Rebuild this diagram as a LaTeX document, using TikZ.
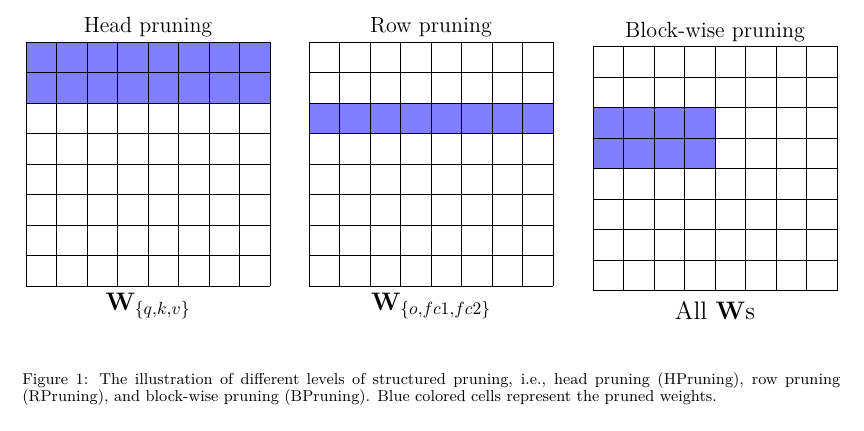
\documentclass[tikz,border=0pt]{standalone}
\usepackage{amsmath,amssymb}

\begin{document}
\begin{tikzpicture}[
    x=0.02cm, y=0.02cm,
    cell/.style={draw=black, line width=0.5pt},
    pruned/.style={fill=blue!50},
    title/.style={anchor=base, font=\fontsize{12.5}{15}\selectfont},
    mat/.style={anchor=base, font=\Large},
    caption/.style={anchor=base west, inner sep=0pt, font=\fontsize{9}{11}\selectfont}
]
\useasboundingbox (0,0) rectangle (864,430);

% pruned weights
\fill[pruned] (26,327) rectangle (270,388);
\fill[pruned] (309,296.5) rectangle (553,327);
\fill[pruned] (593,261.5) rectangle (715,322.5);

% the three 8x8 weight grids
\foreach \gx/\gy in {26/144, 309/144, 593/139.5} {
    \foreach \k in {0,...,8} {
        \draw[cell] (\gx+\k*30.5,\gy) -- (\gx+\k*30.5,\gy+244);
        \draw[cell] (\gx,\gy+\k*30.5) -- (\gx+244,\gy+\k*30.5);
    }
}

\node[title] (headT) at (148,397) {Head pruning};
\node[title] (rowT) at (431,397) {Row pruning};
\node[title] (blockT) at (715,392.7) {Block-wise pruning};

\node[mat] (headW) at (148,120) {$\mathbf{W}_{\{q,k,v\}}$};
\node[mat] (rowW) at (431,120) {$\mathbf{W}_{\{o,fc1,fc2\}}$};
\node[mat] (blockW) at (715,111) {All $\mathbf{W}$s};

\node[caption] (capA) at (22,45.7) {\makebox[16.36cm][s]{Figure 1: The illustration of different levels of structured pruning, i.e., head pruning (HPruning), row pruning}};
\node[caption] (capB) at (22,29) {(RPruning), and block-wise pruning (BPruning). Blue colored cells represent the pruned weights.};
\end{tikzpicture}
\end{document}
